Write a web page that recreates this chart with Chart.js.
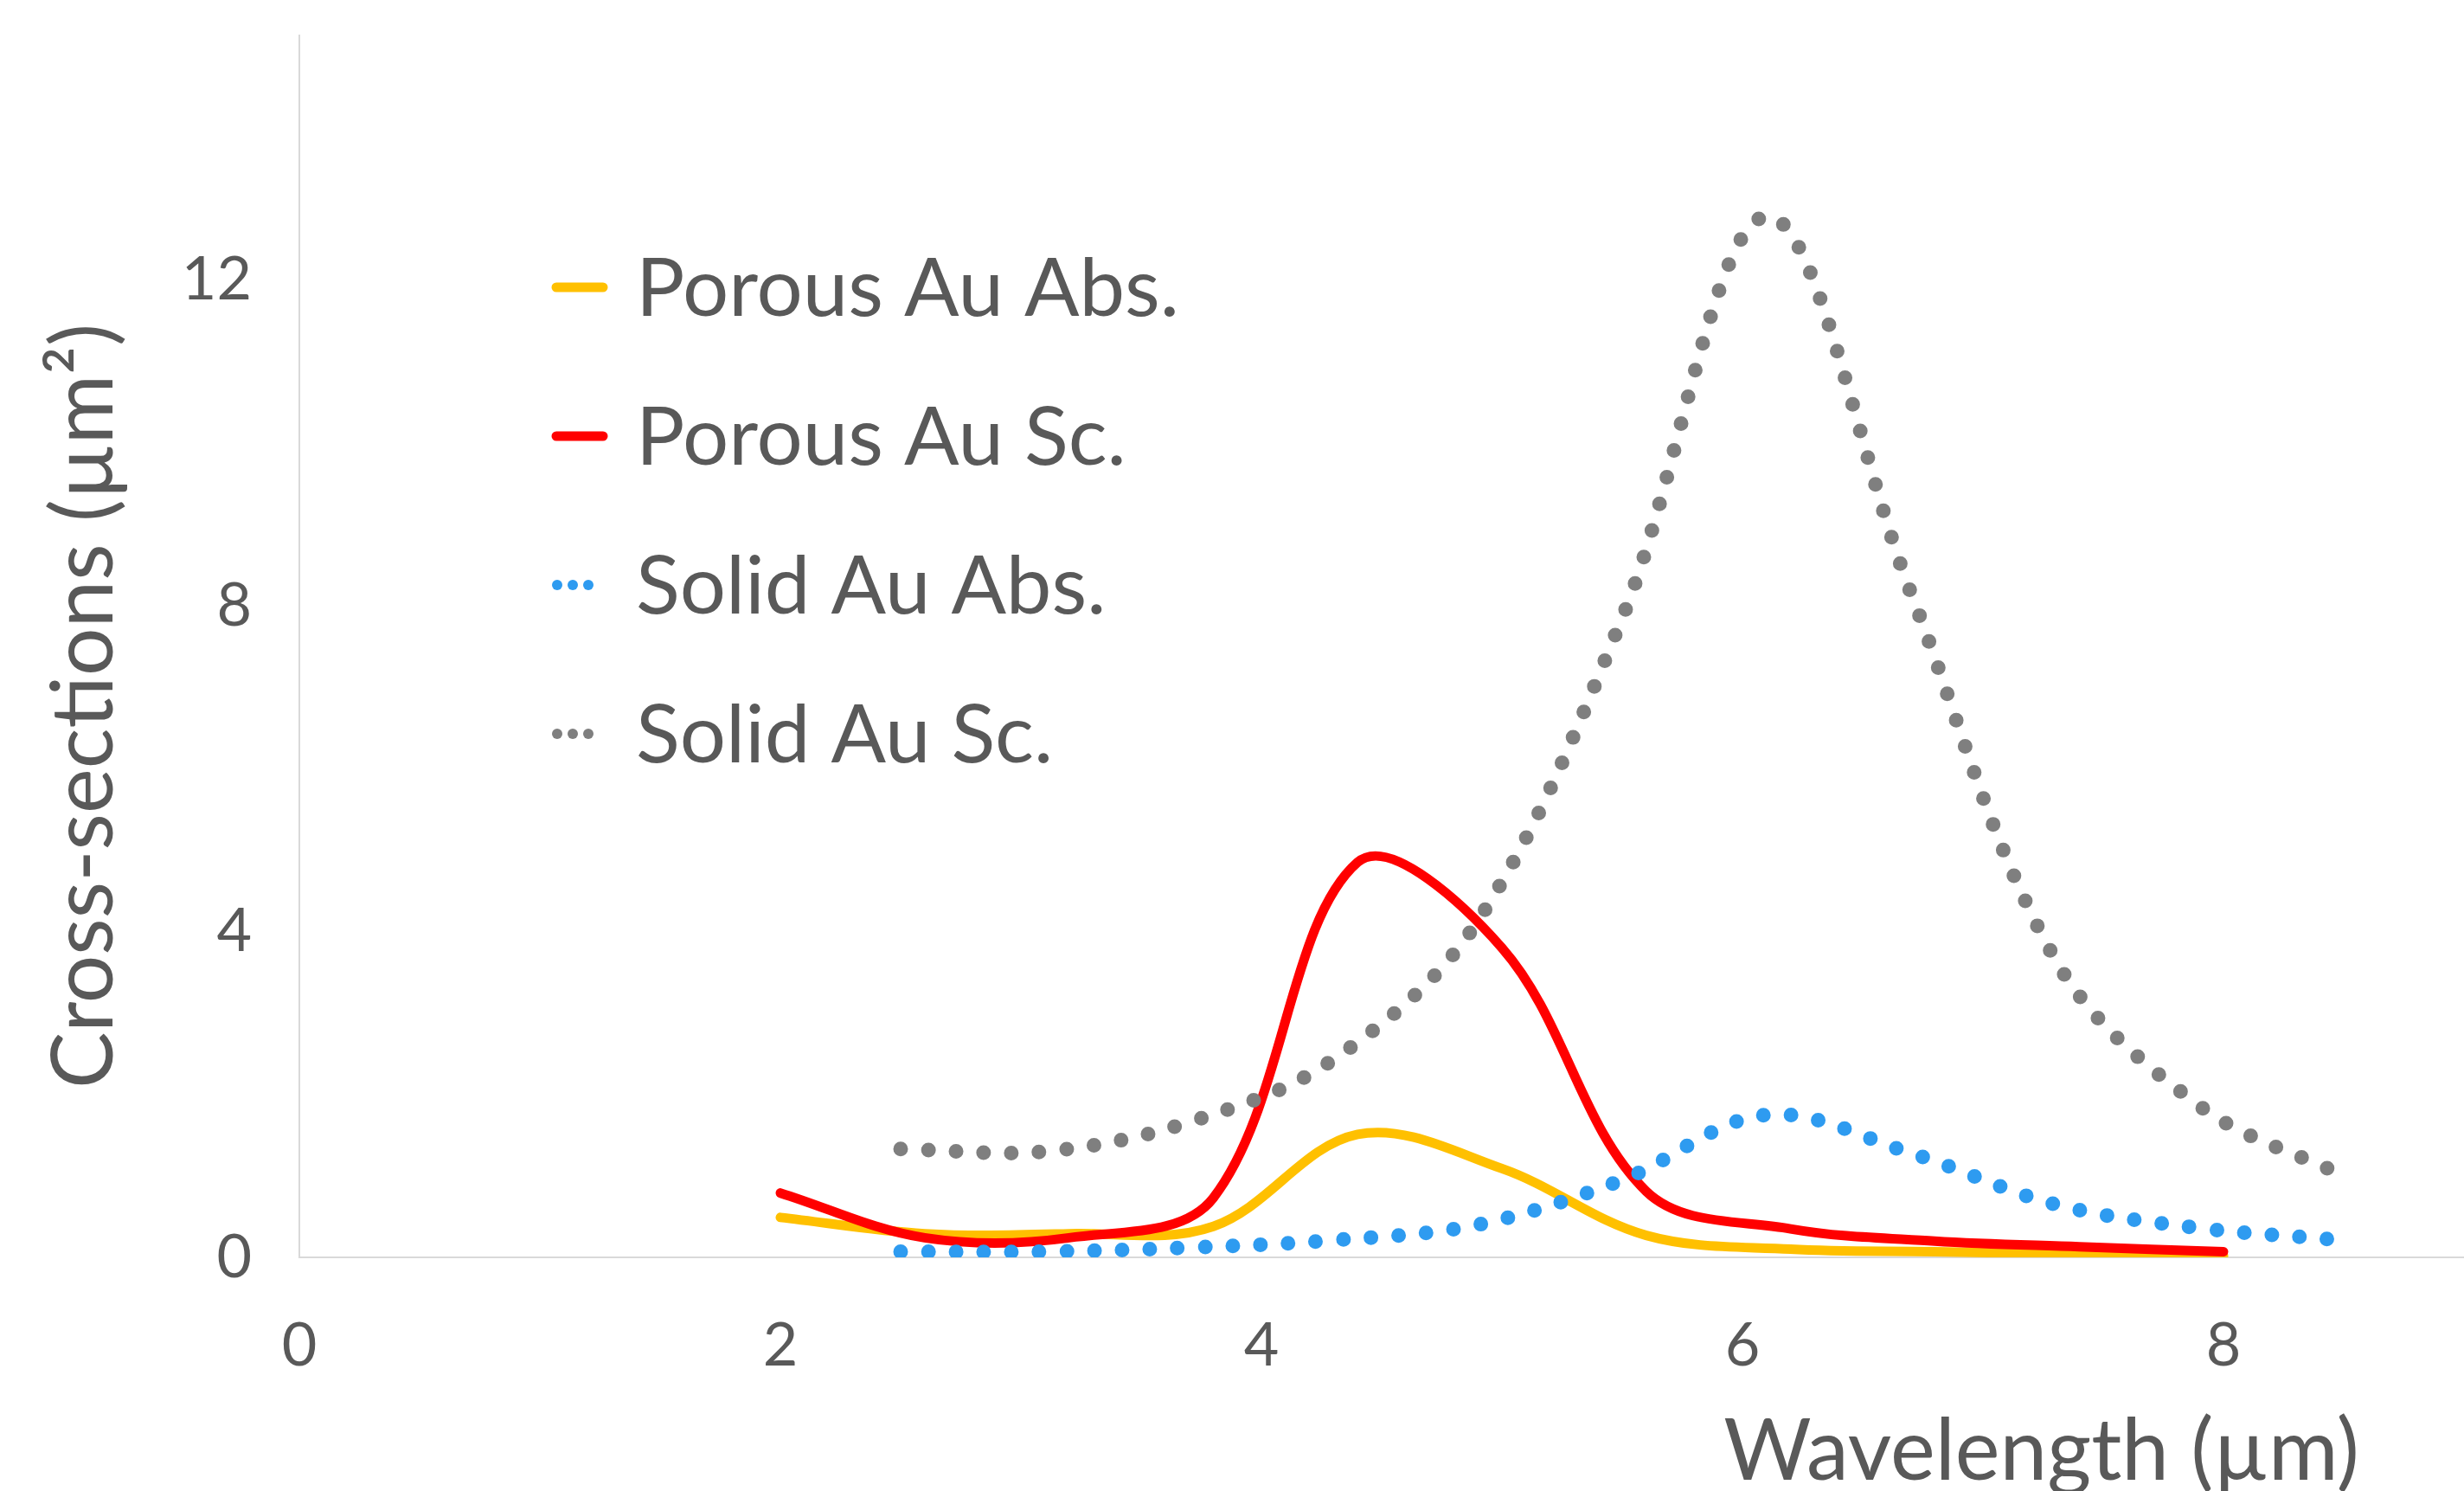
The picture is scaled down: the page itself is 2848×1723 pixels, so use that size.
<!DOCTYPE html>
<html>
<head>
<meta charset="utf-8">
<script src="https://cdn.jsdelivr.net/npm/chart.js@4.4.1/dist/chart.umd.min.js"></script>
<style>
  html, body { margin: 0; padding: 0; background: #ffffff; overflow: hidden; }
  canvas { display: block; }
</style>
</head>
<body>
<canvas id="chart" width="2848" height="1723"></canvas>
<script>
// Wavelength samples (µm)
const porousX = [2.0, 2.6, 3.2, 3.8, 4.4, 5.0, 5.6, 6.2, 6.8, 7.4, 8.0];
const solidX  = [2.5, 3.1, 3.7, 4.3, 4.9, 5.5, 6.1, 6.7, 7.3, 7.9, 8.5];

// Cross-sections (µm²)
const porousAbs = [0.49, 0.29, 0.29, 0.38, 1.51, 1.09, 0.27, 0.10, 0.07, 0.04, 0.02];
const porousSc  = [0.79, 0.24, 0.24, 0.73, 4.85, 3.80, 0.81, 0.35, 0.20, 0.13, 0.07];
const solidAbs  = [0.07, 0.07, 0.12, 0.21, 0.40, 0.95, 1.75, 1.28, 0.65, 0.36, 0.21];
const solidSc   = [1.33, 1.30, 1.66, 2.43, 4.13, 7.85, 12.78, 8.16, 3.66, 1.86, 1.00];

const seriesNames = ['Porous Au Abs.', 'Porous Au Sc.', 'Solid Au Abs.', 'Solid Au Sc.'];
const xTicks = [0, 2, 4, 6, 8];
const yTicks = [0, 4, 8, 12];
const xTitle = 'Wavelength (µm)';
const yTitle = 'Cross-sections (µm²)';

const FONT = 'Lato, "Open Sans", sans-serif';
const TEXT = '#595959';
const AXIS = '#d9d9d9';

const pts = (xs, ys) => xs.map((x, i) => ({ x: x, y: ys[i] }));

const solidLine = (label, color, data, order, width) => ({
  label, data, order,
  showLine: true,
  borderColor: color,
  backgroundColor: color,
  borderWidth: width,
  borderCapStyle: 'round',
  borderJoinStyle: 'round',
  pointRadius: 0,
  pointHoverRadius: 0,
  tension: 0.35,
  fill: false
});

const dottedLine = (label, color, data, order) => ({
  label, data, order,
  showLine: true,
  borderColor: color,
  backgroundColor: color,
  borderWidth: 17,
  borderDash: [0, 32],
  borderCapStyle: 'round',
  borderJoinStyle: 'round',
  pointRadius: 0,
  pointHoverRadius: 0,
  tension: 0.35,
  fill: false
});

// Legend block and axis titles, drawn on top of the plot
const annotations = {
  id: 'annotations',
  afterDraw(chart) {
    const ctx = chart.ctx;
    ctx.save();

    // legend
    const rows = [332, 504, 676, 848];
    ctx.font = '94px ' + FONT;
    ctx.textAlign = 'left';
    ctx.textBaseline = 'alphabetic';
    chart.data.datasets.forEach((ds, i) => {
      const y = rows[i];
      if (ds.borderDash) {
        ctx.fillStyle = ds.borderColor;
        for (let k = 0; k < 3; k++) {
          ctx.beginPath();
          ctx.arc(644 + k * 18, y, 6, 0, Math.PI * 2);
          ctx.fill();
        }
      } else {
        ctx.strokeStyle = ds.borderColor;
        ctx.lineWidth = 11;
        ctx.lineCap = 'round';
        ctx.beginPath();
        ctx.moveTo(643, y);
        ctx.lineTo(697, y);
        ctx.stroke();
      }
      ctx.fillStyle = TEXT;
      ctx.fillText(ds.label, 735, y + 33);
    });

    // axis titles
    ctx.font = '98px ' + FONT;
    ctx.fillStyle = TEXT;
    ctx.textAlign = 'right';
    ctx.textBaseline = 'alphabetic';
    ctx.fillText(xTitle, 2727, 1710);

    ctx.translate(130, 816);
    ctx.rotate(-Math.PI / 2);
    ctx.textAlign = 'center';
    ctx.fillText(yTitle, 0, 0);
    ctx.restore();
  }
};

new Chart(document.getElementById('chart'), {
  type: 'scatter',
  data: {
    datasets: [
      solidLine(seriesNames[0], '#FFC000', pts(porousX, porousAbs), 3, 11),
      solidLine(seriesNames[1], '#FF0000', pts(porousX, porousSc), 2, 11),
      dottedLine(seriesNames[2], '#2E9BF0', pts(solidX, solidAbs), 1),
      dottedLine(seriesNames[3], '#7F7F7F', pts(solidX, solidSc), 0)
    ]
  },
  options: {
    responsive: false,
    animation: false,
    devicePixelRatio: 1,
    layout: { padding: { top: 41, left: 0, right: 0, bottom: 0 } },
    plugins: {
      legend: { display: false },
      tooltip: { enabled: false }
    },
    scales: {
      x: {
        type: 'linear',
        min: 0,
        max: 9,
        grid: { display: true, color: 'rgba(0,0,0,0)', drawTicks: false },
        border: { display: true, color: AXIS, width: 2 },
        ticks: { color: TEXT, font: { family: FONT, size: 70 }, padding: 60 },
        afterBuildTicks(scale) { scale.ticks = xTicks.map(v => ({ value: v })); },
        afterFit(scale) {
          scale.height = 270;
          scale.paddingLeft = 0;
          scale.paddingRight = 0;
        }
      },
      y: {
        type: 'linear',
        min: 0,
        max: 15,
        grid: { display: true, color: 'rgba(0,0,0,0)', drawTicks: false },
        border: { display: true, color: AXIS, width: 2 },
        ticks: { color: TEXT, font: { family: FONT, size: 70 }, padding: 55 },
        afterBuildTicks(scale) { scale.ticks = yTicks.map(v => ({ value: v })); },
        afterFit(scale) {
          scale.width = 346;
          scale.paddingTop = 0;
          scale.paddingBottom = 0;
        }
      }
    }
  },
  plugins: [annotations]
});
</script>
</body>
</html>
